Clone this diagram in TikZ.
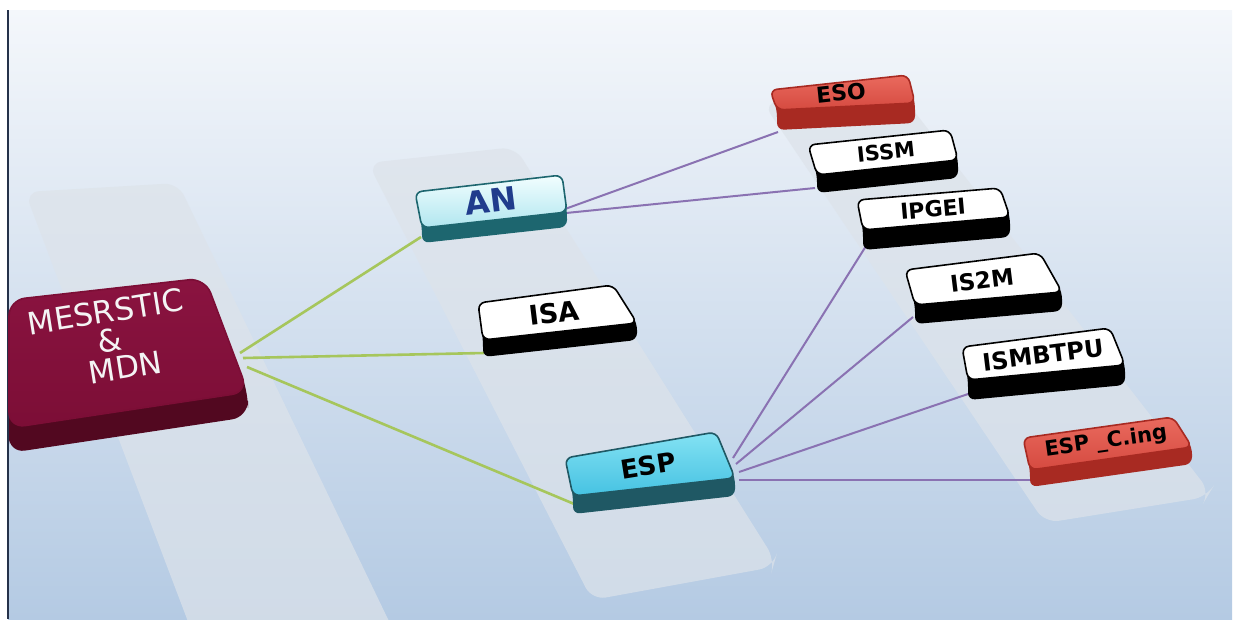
\documentclass[tikz,border=0pt]{standalone}
\usepackage{fontspec}
\setmainfont{DejaVu Sans}
\usetikzlibrary{calc}
\definecolor{bgtop}{HTML}{F4F7FB}
\definecolor{bgmid}{HTML}{DCE6F1}
\definecolor{bgbot}{HTML}{B4CAE3}
\definecolor{panelc}{HTML}{DDE3EA}
\definecolor{greenc}{HTML}{A6C65C}
\definecolor{purplec}{HTML}{8A72B2}
\definecolor{borderc}{HTML}{25324A}
\definecolor{mesface}{HTML}{7C0E36}
\definecolor{mesfacetop}{HTML}{8A1340}
\definecolor{messide}{HTML}{520820}
\definecolor{antop}{HTML}{F2FEFF}
\definecolor{anbot}{HTML}{B0E6EF}
\definecolor{anside}{HTML}{1D666F}
\definecolor{antext}{HTML}{203C8C}
\definecolor{esptop}{HTML}{84E2F3}
\definecolor{espbot}{HTML}{45C2E2}
\definecolor{espside}{HTML}{1F5864}
\definecolor{redtop}{HTML}{EA6A5E}
\definecolor{redbot}{HTML}{D54A40}
\definecolor{redside}{HTML}{A82A22}
\definecolor{mestext}{HTML}{F4F4F4}
\tikzset{
  panel/.style={fill=panelc, fill opacity=0.7, rounded corners=14pt},
  greenline/.style={draw=greenc, line width=2.6pt},
  purpleline/.style={draw=purplec, line width=2pt},
  lbl/.style={inner sep=0pt, text=black, font=\bfseries},
  mesf/.style={top color=mesfacetop, bottom color=mesface},
  anf/.style={top color=antop, bottom color=anbot},
  espf/.style={top color=esptop, bottom color=espbot},
  redf/.style={top color=redtop, bottom color=redbot},
  whitef/.style={fill=white},
}
% [#1 radius] #2 TL #3 TR #4 BR #5 BL #6 depth #7 face style #8 side colour #9 border colour
\newcommand\cubebox[9][7pt]{%
  \fill[#8, rounded corners=#1] #2 -- #3 -- #4 -- ($#4+(0,#6)$) -- ($#5+(0,#6)$) -- #5 -- cycle;
  \path[#7, draw=#9, line width=1.6pt, rounded corners=#1] #2 -- #3 -- #4 -- #5 -- cycle;
}
\newcommand\fs[1]{\fontsize{#1}{#1}\selectfont}
\begin{document}
\begin{tikzpicture}[x=1pt, y=-1pt]
\useasboundingbox (0,0) rectangle (1236,619);
% background
\shade[top color=bgtop, middle color=bgmid, bottom color=bgbot] (8,10) rectangle (1232,619);
\draw[borderc, line width=2pt] (8,10) -- (8,619);
% translucent panels
\fill[panel] (25,192) -- (178,183) -- (398,640) -- (195,640) -- cycle;
\fill[panel] (368,163) -- (515,147) -- (775,560) -- (773,567) -- (592,600) -- cycle;
\fill[panel] (763,103) -- (900,93) -- (1210,492) -- (1207,497) -- (1045,523) -- cycle;
% connector end points
\coordinate (mes-a) at (240,353);
\coordinate (mes-b) at (243,358);
\coordinate (mes-c) at (247,367);
\coordinate (an-in) at (421,237);
\coordinate (isa-in) at (484,353);
\coordinate (esp-in) at (579,506);
\coordinate (an-o1) at (565,209);
\coordinate (an-o2) at (566,213);
\coordinate (eso-in) at (778,132);
\coordinate (issm-in) at (815,188);
\coordinate (esp-o1) at (733,458);
\coordinate (esp-o2) at (736,464);
\coordinate (esp-o3) at (739,472);
\coordinate (esp-o4) at (739,480);
\coordinate (ipgei-in) at (866,246);
\coordinate (is2m-in) at (913,317);
\coordinate (ismb-in) at (971,393);
\coordinate (espc-in) at (1030,480);
% connectors
\draw[greenline] (mes-a) -- (an-in);
\draw[greenline] (mes-b) -- (isa-in);
\draw[greenline] (mes-c) -- (esp-in);
\draw[purpleline] (an-o1) -- (eso-in);
\draw[purpleline] (an-o2) -- (issm-in);
\draw[purpleline] (esp-o1) -- (ipgei-in);
\draw[purpleline] (esp-o2) -- (is2m-in);
\draw[purpleline] (esp-o3) -- (ismb-in);
\draw[purpleline] (esp-o4) -- (espc-in);
% boxes
\cubebox[16pt]{(9,300)}{(205,278)}{(248,392)}{(9,428)}{25}{mesf}{messide}{mesface}
\cubebox{(415,192)}{(562,175)}{(567,212)}{(422,228)}{15}{anf}{anside}{anside}
\cubebox{(478,303)}{(613,285)}{(637,323)}{(483,340)}{17}{whitef}{black}{black}
\cubebox{(565,458)}{(716,432)}{(735,478)}{(573,496)}{18}{espf}{espside}{espside}
\cubebox{(770,90)}{(908,75)}{(915,103)}{(777,110)}{20}{redf}{redside}{redside}
\cubebox{(808,145)}{(950,130)}{(958,160)}{(817,175)}{18}{whitef}{black}{black}
\cubebox{(857,200)}{(1000,188)}{(1010,217)}{(863,230)}{20}{whitef}{black}{black}
\cubebox{(905,270)}{(1040,253)}{(1062,292)}{(915,305)}{19}{whitef}{black}{black}
\cubebox{(962,347)}{(1110,328)}{(1125,365)}{(968,380)}{20}{whitef}{black}{black}
\cubebox{(1023,438)}{(1173,417)}{(1192,447)}{(1030,470)}{17}{redf}{redside}{redside}
% labels
\node[inner sep=0pt, text=mestext, font=\fs{31}, rotate=9, align=center] (mes) at (110,340)
  {MESRSTIC\\[-2pt]\&\\[-2pt]\hspace*{22pt}MDN};
\node[lbl, text=antext, font=\bfseries\fs{32}, rotate=7] (an) at (491,201) {AN};
\node[lbl, font=\bfseries\fs{27}, rotate=7] (isa) at (554,313) {ISA};
\node[lbl, font=\bfseries\fs{26}, rotate=9] (esp) at (648,466) {ESP};
\node[lbl, font=\bfseries\fs{22}, rotate=6] (eso) at (841,93) {ESO};
\node[lbl, font=\bfseries\fs{21}, rotate=6] (issm) at (886,152) {ISSM};
\node[lbl, font=\bfseries\fs{22}, rotate=5] (ipgei) at (933,209) {IPGEI};
\node[lbl, font=\bfseries\fs{23}, rotate=7] (is2m) at (982,280) {IS2M};
\node[lbl, font=\bfseries\fs{24}, rotate=7] (ismbtpu) at (1043,355) {ISMBTPU};
\node[lbl, font=\bfseries\fs{21}, rotate=8] (espc) at (1106,442) {ESP \_C.ing};
\end{tikzpicture}
\end{document}
